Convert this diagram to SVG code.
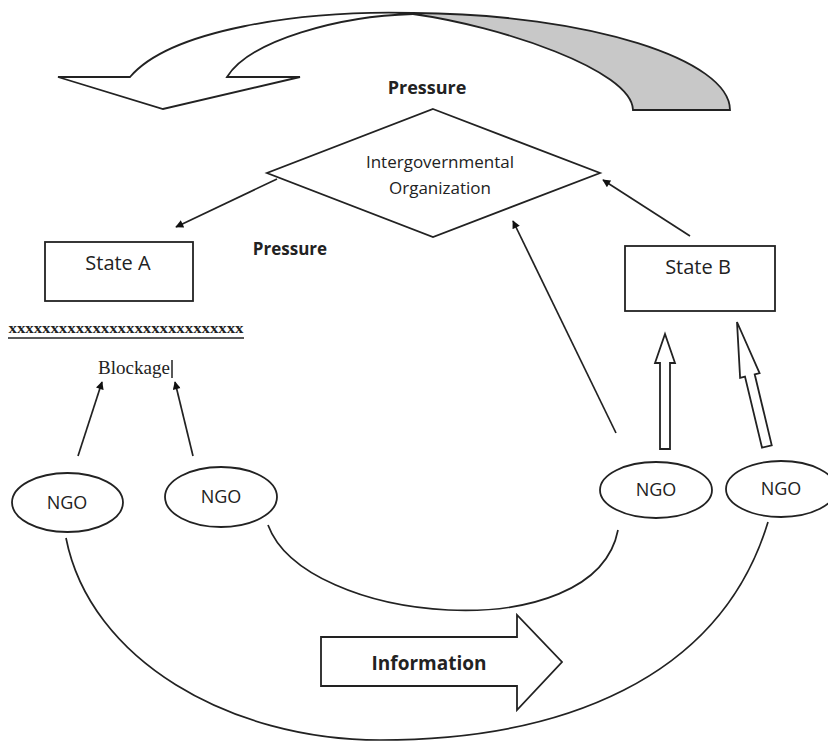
<svg xmlns="http://www.w3.org/2000/svg" width="828" height="742" viewBox="0 0 828 742">
<defs>
<marker id="ah" viewBox="0 0 10 10" refX="9" refY="5" markerWidth="9" markerHeight="8" markerUnits="userSpaceOnUse" orient="auto">
<path d="M0,0 L10,5 L0,10 Z" fill="#111"/>
</marker>
<style>
.sh{fill:#fff;stroke:#222;stroke-width:1.8}
.ln{fill:none;stroke:#222;stroke-width:1.7}
.ar{fill:none;stroke:#222;stroke-width:1.7;marker-end:url(#ah)}
.t{font-family:"Open Sans","Liberation Sans",sans-serif;fill:#222;text-anchor:middle}
.b{font-weight:bold}
.s{font-family:"Liberation Serif","DejaVu Serif",serif;fill:#222;text-anchor:middle}
</style>
</defs>
<rect width="828" height="742" fill="#fff"/>

<g id="pressure-arrow">
<path d="M413,13 C590,14 730,60 730,110 L633,110 C632,70 500,26 413,14 Z" fill="#c8c8c8" stroke="#222" stroke-width="1.8"/>
<path class="sh" d="M413,13 C300,10 170,30 130,77 L58,77 L163,109 L300,77 L227,77 C250,40 340,16 413,14 Z"/>
</g>
<g id="label-pressure-top"><text class="t b" x="427" y="94" font-size="18">Pressure</text></g>

<g id="igo">
<polygon class="sh" points="433,109 600,173 433,237 267,173"/>
<text class="t" x="440" y="168" font-size="17">Intergovernmental</text>
<text class="t" x="440" y="194" font-size="17">Organization</text>
</g>

<g id="label-pressure-mid"><text class="t b" x="290" y="255" font-size="17">Pressure</text></g>

<g id="state-a">
<rect class="sh" x="45" y="242" width="148" height="59"/>
<text class="t" x="118" y="270" font-size="20">State A</text>
</g>

<g id="state-b">
<rect class="sh" x="625" y="246" width="150" height="65"/>
<text class="t" x="698" y="274" font-size="20">State B</text>
</g>

<g id="blockage">
<text class="s" x="126" y="333" font-size="14" font-weight="bold" textLength="235" lengthAdjust="spacingAndGlyphs">xxxxxxxxxxxxxxxxxxxxxxxxxxxx</text>
<line x1="8" y1="338" x2="244" y2="338" stroke="#222" stroke-width="1.6"/>
<text class="s" x="134" y="374" font-size="19">Blockage</text>
<line x1="172" y1="360" x2="172" y2="378" stroke="#222" stroke-width="1.5"/>
</g>

<g id="ngo-1">
<ellipse class="sh" cx="67.5" cy="502.5" rx="55.5" ry="29.5"/>
<text class="t" x="67" y="509" font-size="18">NGO</text>
</g>
<g id="ngo-2">
<ellipse class="sh" cx="221" cy="497" rx="56" ry="30"/>
<text class="t" x="221" y="503" font-size="18">NGO</text>
</g>
<g id="ngo-3">
<ellipse class="sh" cx="656" cy="490" rx="56" ry="28"/>
<text class="t" x="656" y="496" font-size="18">NGO</text>
</g>
<g id="ngo-4">
<ellipse class="sh" cx="781" cy="489" rx="55" ry="28"/>
<text class="t" x="781" y="495" font-size="18">NGO</text>
</g>

<g id="information">
<polygon class="sh" points="321,637 517,637 517,615 562,662 517,710 517,686 321,686"/>
<text class="t b" x="429" y="670" font-size="19">Information</text>
</g>

<g id="connectors">
<line class="ar" x1="277" y1="179" x2="176" y2="227"/>
<line class="ar" x1="616" y1="433" x2="513" y2="221"/>
<line class="ar" x1="690" y1="236" x2="603" y2="180"/>
<line class="ar" x1="78" y1="456" x2="102" y2="382"/>
<line class="ar" x1="193" y1="456" x2="175" y2="382"/>
<path class="ln" d="M268,525 C305,625 595,650 618,530"/>
<path class="ln" d="M66,538 C90,660 230,740 380,740 C560,740 720,680 768,522"/>
<polygon class="sh" points="665,334 675,363 670,363 670,449 660,449 660,363 655,363"/>
<polygon class="sh" transform="translate(737,322) rotate(-13.5)" points="0,0 10,55 5,55 5,128 -5,128 -5,55 -10,55"/>
</g>
</svg>
